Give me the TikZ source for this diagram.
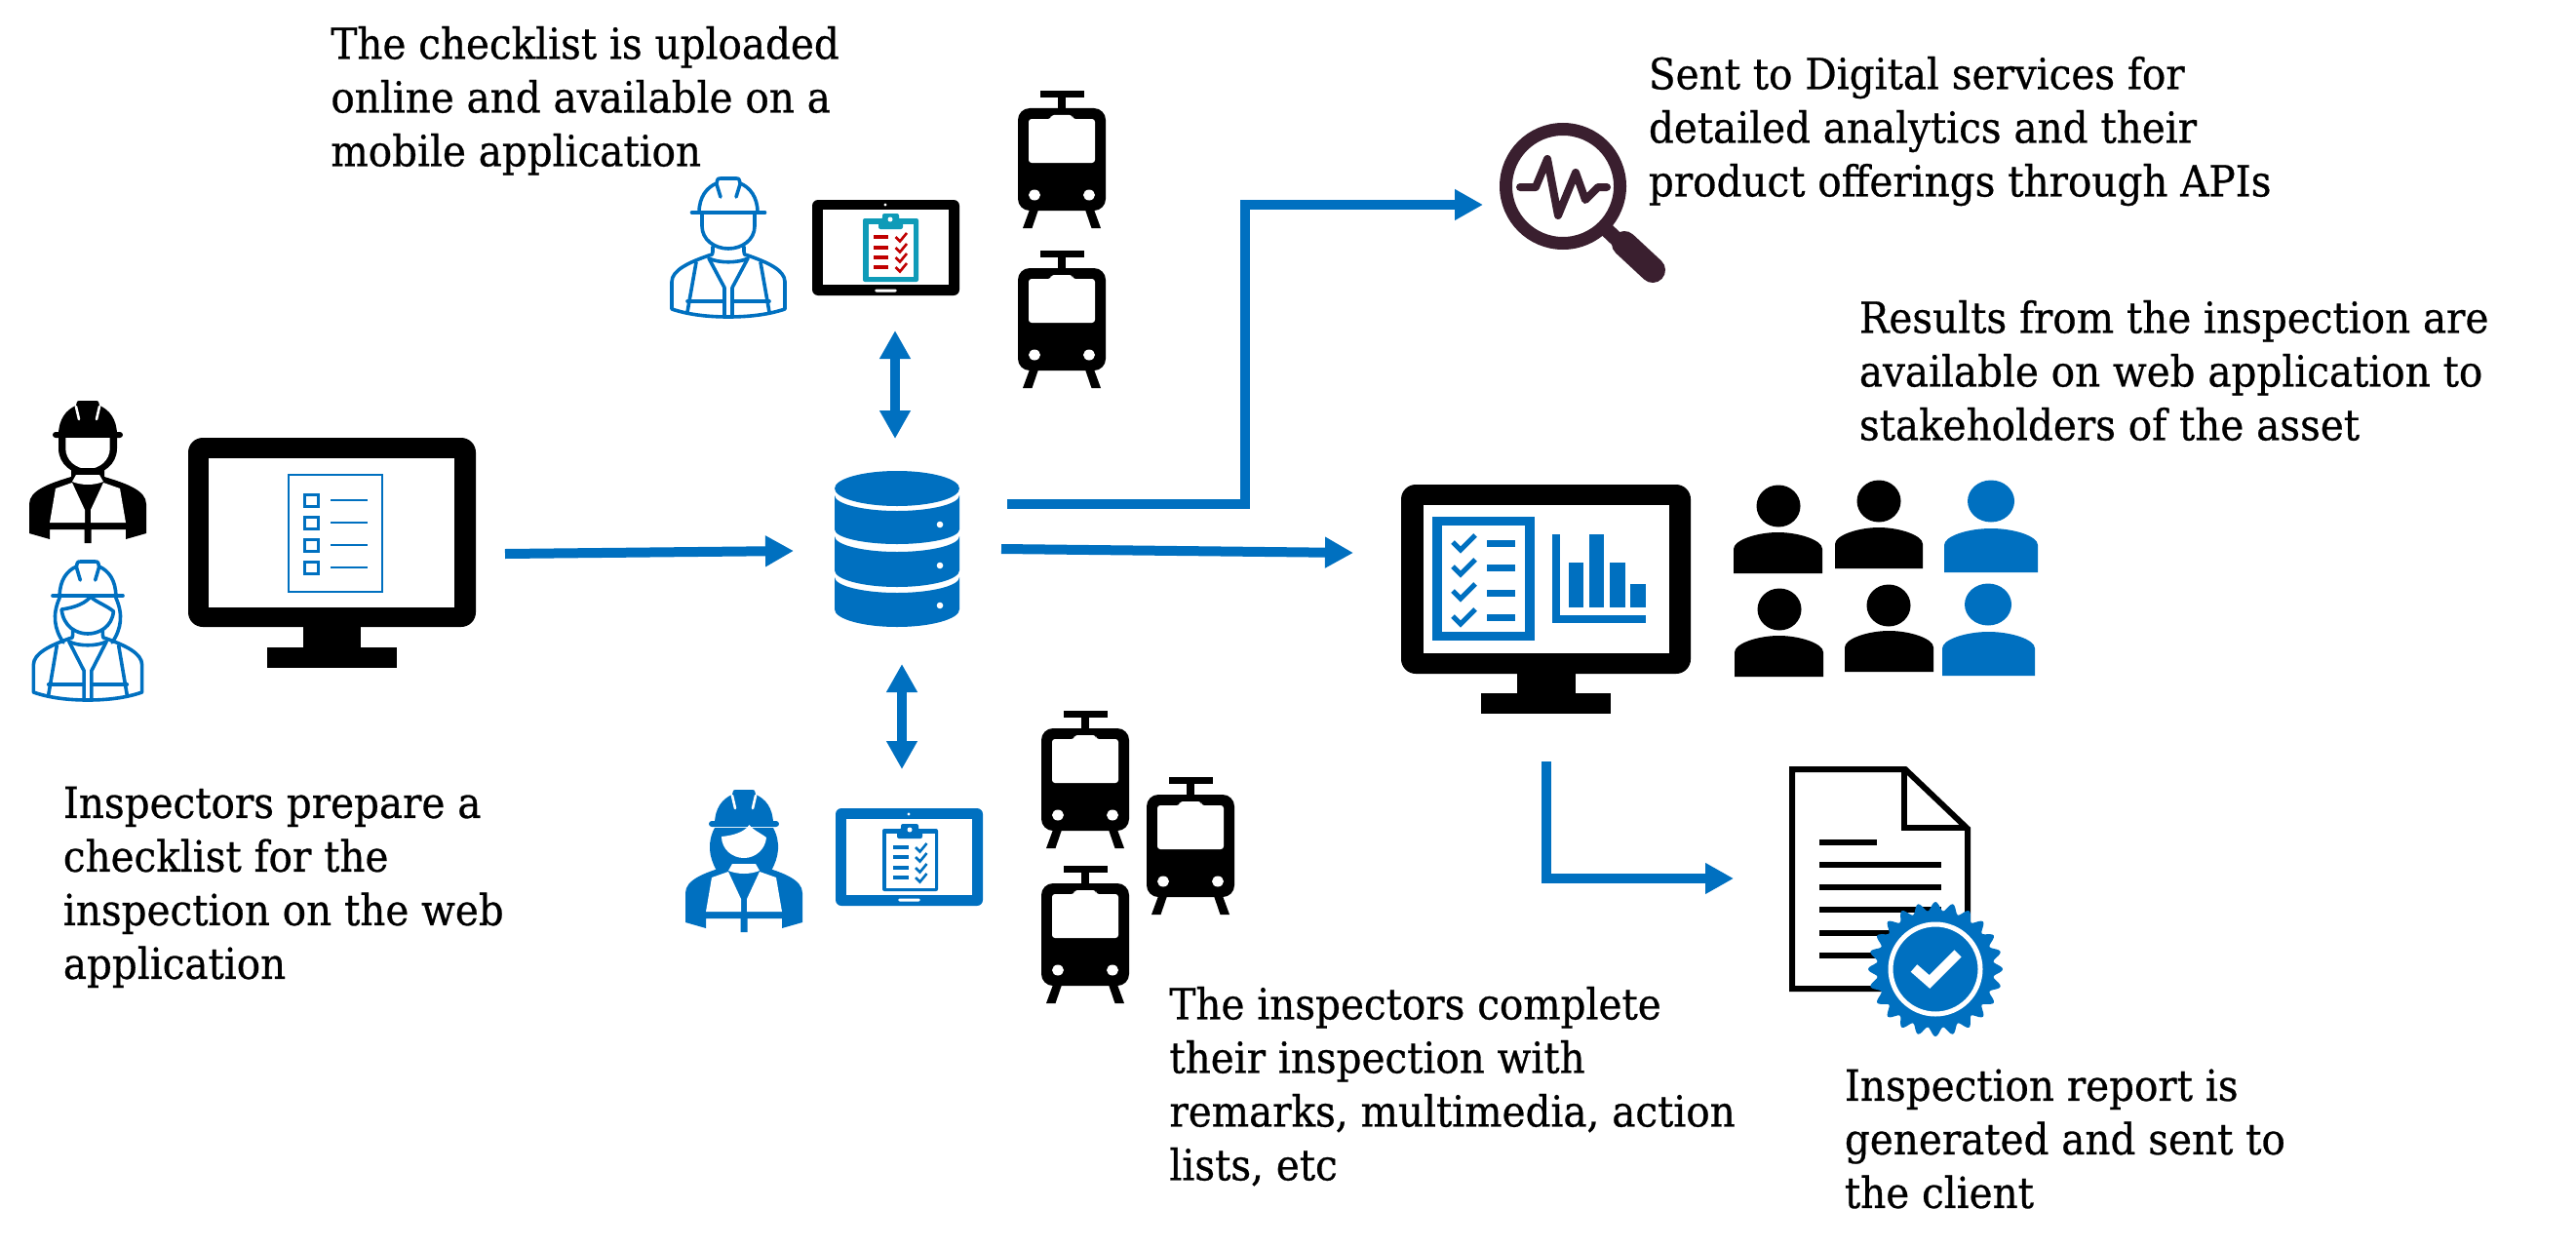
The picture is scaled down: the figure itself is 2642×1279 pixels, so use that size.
\documentclass[tikz,border=0pt]{standalone}
\usepackage{fontspec}
\setmainfont{DejaVu Serif}[FakeStretch=0.92,FakeBold=0.6]
\usetikzlibrary{arrows.meta}
\definecolor{mblue}{HTML}{0070C0}
\definecolor{teal}{HTML}{0F9BB8}
\definecolor{cred}{HTML}{C00000}
\definecolor{plum}{HTML}{3A1F2F}
\tikzset{
  txt/.style={anchor=north west,inner sep=0pt,align=left,text=black,font=\fontsize{22}{27.5}\selectfont},
  flow/.style={draw=mblue,line width=5pt,-{Triangle[length=14.5pt,width=15pt]}},
  flowboth/.style={draw=mblue,line width=5pt,{Triangle[length=14.5pt,width=15pt]}-{Triangle[length=14.5pt,width=15pt]}},
  outl/.style={line width=1.8pt,line join=round,line cap=round,fill=none}
}
\newcommand{\firstline}{\rule{0pt}{20pt}}
\newcommand{\TrainIcon}[2]{\begin{scope}[shift={(#1,#2)}]
 \fill (-22.5,0) rectangle (22.5,7);
 \fill (-4,7) rectangle (4,19);
 \fill[rounded corners=6pt] (-45,18) rectangle (45,123);
 \fill[white,rounded corners=1.5pt] (-34,74) -- (-34,29) -- (-11,29) -- (-11,25) -- (11,25) -- (11,29) -- (34,29) -- (34,74) -- cycle;
 \fill[white] (-28,107) ellipse [x radius=6,y radius=5.5];
 \fill[white] (28,107) ellipse [x radius=6,y radius=5.5];
 \fill (-33,122) -- (-24,122) -- (-30.5,141) -- (-40,141) -- cycle;
 \fill (33,122) -- (24,122) -- (30.5,141) -- (40,141) -- cycle;
\end{scope}}
\newcommand{\HatShape}{(-30,36) .. controls (-30,20) and (-22,10) .. (-12,6) .. controls (-11,1) .. (-7,1) -- (7,1) .. controls (11,1) .. (12,6) .. controls (22,10) and (30,20) .. (30,36)}
\newcommand{\OutlineBody}[1]{
 \draw[outl,#1] (-16,71) -- (-16,76) .. controls (-16,79) .. (-20,80) .. controls (-40,87) and (-58,95) .. (-58,107) -- (-58,135) .. controls (-40,141) and (-20,143) .. (0,143) .. controls (20,143) and (40,141) .. (58,135) -- (58,107) .. controls (58,95) and (40,87) .. (20,80) .. controls (16,79) .. (16,76) -- (16,71);
 \draw[outl,#1] (-20,83) .. controls (-10,88) and (10,88) .. (20,83);
 \draw[outl,#1] (-20,83) -- (-4,113) -- (-4,143);
 \draw[outl,#1] (20,83) -- (4,113) -- (4,143);
 \draw[outl,#1] (-33,87) -- (-42,138);
 \draw[outl,#1] (33,87) -- (42,138);
 \draw[outl,#1] (-42,127) -- (-4,127);
 \draw[outl,#1] (4,127) -- (42,127);
}
\newcommand{\OutlineHat}[1]{
 \draw[outl,#1] (-37.5,36) -- (37.5,36);
 \draw[outl,#1] \HatShape;
 \draw[outl,#1] (-12,7) -- (-8,20);
 \draw[outl,#1] (12,7) -- (8,20);
}
\newcommand{\SolidBody}[1]{
 \fill[#1] (-17,70) -- (17,70) -- (17,79) .. controls (40,86) and (60,93) .. (60,107) -- (60,137) -- (39,143) -- (39,133) -- (3.5,133) -- (3.5,147) -- (-3.5,147) -- (-3.5,133) -- (-39,133) -- (-39,143) -- (-60,137) -- (-60,107) .. controls (-60,93) and (-40,86) .. (-17,79) -- cycle;
 \fill[white] (-33,91) -- (-16,85) -- (-3,113) -- (-3,126) -- (-39,126) -- cycle;
 \fill[white] (33,91) -- (16,85) -- (3,113) -- (3,126) -- (39,126) -- cycle;
 \fill[white] (-12,77) -- (12,77) -- (16,84) .. controls (6,88) and (-6,88) .. (-16,84) -- cycle;
}
\newcommand{\SolidHat}[1]{
 \fill[#1] \HatShape -- cycle;
 \fill[#1,rounded corners=1.5pt] (-36,33) rectangle (36,39);
 \draw[white,line width=1.3pt,line cap=round] (-12,7) -- (-9,20);
 \draw[white,line width=1.3pt,line cap=round] (12,7) -- (9,20);
}
\newcommand{\Tick}[3]{\draw[#3,line width=1.3pt] (#1-5.5,#2) -- (#1-1,#2+4.5) -- (#1+6,#2-4);}
\begin{document}
\begin{tikzpicture}[x=0.5pt,y=-0.5pt]
\useasboundingbox (0,0) rectangle (2642,1279);
\fill[white] (0,0) rectangle (2642,1279);

% ---- text
\node[txt] (t1) at (339,20) {\firstline The checklist is uploaded\\online and available on a\\mobile application};
\node[txt] (t2) at (64.5,798.5) {\firstline Inspectors prepare a\\checklist for the\\inspection on the web\\application};
\node[txt] (t3) at (1199,1005) {\firstline The inspectors complete\\their inspection with\\remarks, multimedia, action\\lists, etc};
\node[txt] (t4) at (1690.5,51) {\firstline Sent to Digital services for\\detailed analytics and their\\product offerings through APIs};
\node[txt] (t5) at (1906.5,301) {\firstline Results from the inspection are\\available on web application to\\stakeholders of the asset};
\node[txt] (t6) at (1891.5,1088.5) {\firstline Inspection report is\\generated and sent to\\the client};

% ---- left workers
\begin{scope}[shift={(90,410)}]
 \SolidHat{black}
 \fill (-30,38) -- (-30,50) .. controls (-30,66) and (-16,77) .. (0,77) .. controls (16,77) and (30,66) .. (30,50) -- (30,38) -- cycle;
 \fill[white] (-22.7,39) -- (-22.7,50) .. controls (-22.7,62) and (-12,71) .. (0,71) .. controls (12,71) and (22.7,62) .. (22.7,50) -- (22.7,39) -- cycle;
 \SolidBody{black}
\end{scope}
\begin{scope}[shift={(90,575)},xscale=0.96]
 \OutlineHat{mblue}
 \draw[outl,mblue] (-30,38) .. controls (-38,55) and (-36,70) .. (-26,84);
 \draw[outl,mblue] (30,38) .. controls (38,55) and (36,70) .. (26,84);
 \draw[outl,mblue] (-28,50) .. controls (-12,48) and (-2,43) .. (3,37) .. controls (8,42) and (20,46) .. (27.5,52) .. controls (26,68) and (12,75) .. (0,75) .. controls (-12,75) and (-26,68) .. (-28,50);
 \OutlineBody{mblue}
\end{scope}

% ---- left monitor
\fill[rounded corners=7.5pt] (193,449) rectangle (488,643);
\fill (311,640) rectangle (370,670);
\fill (274,664) rectangle (407,685);
\fill[white] (214,470) rectangle (466,623);
\draw[mblue,line width=1.3pt] (296,487) rectangle (392,607);
\foreach \yy in {513,536,559,582}{
 \draw[mblue,line width=1.5pt] (312,\yy-6) rectangle (326,\yy+6);
 \draw[mblue,line width=1.2pt] (339,\yy) -- (377,\yy);
}

% ---- upper worker and tablet
\begin{scope}[shift={(747,182)}]
 \OutlineHat{mblue}
 \draw[outl,mblue] (-27,36) -- (-27,50) .. controls (-27,64) and (-14,73) .. (0,73) .. controls (14,73) and (27,64) .. (27,50) -- (27,36);
 \OutlineBody{mblue}
\end{scope}
\fill[rounded corners=3pt] (833,205) rectangle (984,303);
\fill[white] (844,215) rectangle (973,292);
\fill[white] (908,210) circle (1.7);
\fill[white,rounded corners=.8pt] (897,296.5) rectangle (920,299.5);
\fill[teal,rounded corners=1pt] (885,224) rectangle (942,289);
\fill[white] (891,230) rectangle (937,284);
\fill[teal,rounded corners=1pt] (901,235) -- (901,225) -- (905,225) -- (905,219) -- (922,219) -- (922,225) -- (926,225) -- (926,235) -- cycle;
\fill[white] (913,225) circle (2.5);
\foreach \yy in {243,254,264,274}{
 \fill[cred] (896,\yy-1.8) rectangle (911,\yy+1.8);
 \Tick{924}{\yy}{cred}
}

% ---- trains
\TrainIcon{1089}{93}
\TrainIcon{1089}{257}
\TrainIcon{1113}{729}
\TrainIcon{1221}{797}
\TrainIcon{1113}{888}

% ---- lower worker and tablet
\begin{scope}[shift={(763,809)}]
 \fill[mblue] (-30,40) .. controls (-38,55) and (-36,70) .. (-28,84) -- (28,84) .. controls (36,70) and (38,55) .. (30,40) -- cycle;
 \SolidHat{mblue}
 \SolidBody{mblue}
 \fill[white] (-23,49) .. controls (-12,48) and (0,45) .. (5.5,37) .. controls (9,42) and (18,46) .. (23,50) .. controls (22,62) and (12,71) .. (0,71) .. controls (-12,71) and (-23,62) .. (-23,49) -- cycle;
\end{scope}
\fill[mblue,rounded corners=3pt] (857,829) rectangle (1008,929);
\fill[white] (868,840) rectangle (997,918);
\fill[white] (932,835) circle (1.7);
\fill[white,rounded corners=.8pt] (921,921.5) rectangle (944,924.5);
\fill[mblue,rounded corners=1pt] (905,850) rectangle (962,914);
\fill[white] (908.5,855) rectangle (958.5,910.5);
\fill[mblue,rounded corners=1pt] (920,860) -- (920,851) -- (924,851) -- (924,845) -- (942,845) -- (942,851) -- (946,851) -- (946,860) -- cycle;
\fill[white] (933,851) circle (2.5);
\foreach \yy in {869,879,890,900}{
 \fill[mblue] (916,\yy-1.6) rectangle (932,\yy+1.6);
 \Tick{944.5}{\yy}{mblue}
}

% ---- database
\newcommand{\DbSeg}[5]{\fill[mblue] (856,#1) .. controls (856,#1+.55*#2-.55*#1) and (885,#2) .. (920,#2) .. controls (955,#2) and (984,#1+.55*#2-.55*#1) .. (984,#1) -- (984,#3) .. controls (984,#3+.55*#4-.55*#3) and (955,#4) .. (920,#4) .. controls (885,#4) and (856,#3+.55*#4-.55*#3) .. (856,#3) -- cycle; \fill[white] (964,#5) circle (3.3);}
\fill[mblue] (920,501) ellipse [x radius=64,y radius=18];
\DbSeg{508}{524}{543}{558}{538}
\DbSeg{550}{566}{585}{602}{580}
\DbSeg{592}{608}{625}{643}{621}

% ---- magnifier
\draw[plum,line width=6.5pt] (1603,191) circle (58.5);
\draw[plum,line width=7.5pt] (1644,232) -- (1665,252);
\draw[plum,line width=13pt,line cap=round] (1666,250) -- (1695,277);
\draw[plum,line width=4pt,line join=round,line cap=round] (1559,192) -- (1575,192) -- (1587,163) -- (1598,221) -- (1616,177) -- (1626,205) -- (1639,192) -- (1648,192);

% ---- right monitor
\fill[rounded corners=7.5pt] (1437,497) rectangle (1734,691);
\fill (1556,688) rectangle (1616,715);
\fill (1519,711) rectangle (1652,732);
\fill[white] (1460,518) rectangle (1712,670);
\draw[mblue,line width=4.6pt] (1474,534.5) rectangle (1569,652.5);
\foreach \yy/\zz in {556/557,581/582,606/608,632/633}{
 \draw[mblue,line width=2.6pt] (1490,\yy) -- (1498,\yy+8) -- (1513,\yy-7);
 \fill[mblue] (1525,\zz-3.5) rectangle (1554,\zz+3.5);
}
\fill[mblue] (1592,548) rectangle (1600,639);
\fill[mblue] (1592,631) rectangle (1688,639);
\fill[mblue] (1609,577) rectangle (1624,623);
\fill[mblue] (1630,548) rectangle (1645,623);
\fill[mblue] (1651,577) rectangle (1667,623);
\fill[mblue] (1672,599) rectangle (1688,623);

% ---- people
\newcommand{\PersonIcon}[8]{%
 \fill[#1] (#2,#3) ellipse [x radius=#4,y radius=21.5];
 \fill[#1] (#5,#8) -- (#5,#7+17) .. controls (#5,#7+8) and (#5+24,#7) .. ({(#5+#6)/2},#7) .. controls (#6-24,#7) and (#6,#7+8) .. (#6,#7+17) -- (#6,#8) -- cycle;}
\PersonIcon{black}{1824}{519}{22.5}{1778}{1869}{546}{588}
\PersonIcon{black}{1927}{514}{22.5}{1882}{1972}{541}{583}
\PersonIcon{mblue}{2042}{514}{24}{1994}{2090}{542}{587}
\PersonIcon{black}{1825}{625}{22.5}{1779}{1870}{652}{694}
\PersonIcon{black}{1937}{621}{22.5}{1892}{1983}{647}{689}
\PersonIcon{mblue}{2039}{620}{24}{1992}{2087}{648}{693}

% ---- document and badge
\draw[line width=3pt,line join=miter] (1838,789) -- (1954,789) -- (2018,850) -- (2018,1014) -- (1838,1014) -- cycle;
\draw[line width=3pt] (1953,789) -- (1953,849) -- (2018,849);
\foreach \yy/\xe in {864/1925,887/1991,910/1991,933/1991,957/1991,980/1991}{
 \fill (1866,\yy-3) rectangle (\xe,\yy+3);
}
\begin{scope}[shift={(1985,994)}]
 \fill[mblue] plot[domain=0:360,samples=241,smooth] (\x:{64.5+4.5*cos(24*\x)}) -- cycle;
 \draw[white,line width=2.5pt] (0,0) circle (46);
 \draw[white,line width=5pt] (-22,-1) -- (-6,13) -- (23,-16);
\end{scope}

% ---- connectors
\coordinate (inA) at (518,568);
\coordinate (dbIn) at (814,565);
\coordinate (tabUp) at (918,339);
\coordinate (dbUp) at (918,450);
\coordinate (dbDown) at (925,681);
\coordinate (tabDown) at (925,789);
\coordinate (dbOutA) at (1033,517);
\coordinate (elbowA) at (1277,517);
\coordinate (elbowB) at (1277,210);
\coordinate (lensIn) at (1521,210);
\coordinate (dbOutB) at (1027,563);
\coordinate (monIn) at (1388,567);
\coordinate (monOut) at (1586,781);
\coordinate (elbowC) at (1586,901);
\coordinate (docIn) at (1778,901);
\draw[flow] (inA) -- (dbIn);
\draw[flowboth] (tabUp) -- (dbUp);
\draw[flowboth] (dbDown) -- (tabDown);
\draw[flow] (dbOutA) -- (elbowA) -- (elbowB) -- (lensIn);
\draw[flow] (dbOutB) -- (monIn);
\draw[flow] (monOut) -- (elbowC) -- (docIn);
\end{tikzpicture}
\end{document}
